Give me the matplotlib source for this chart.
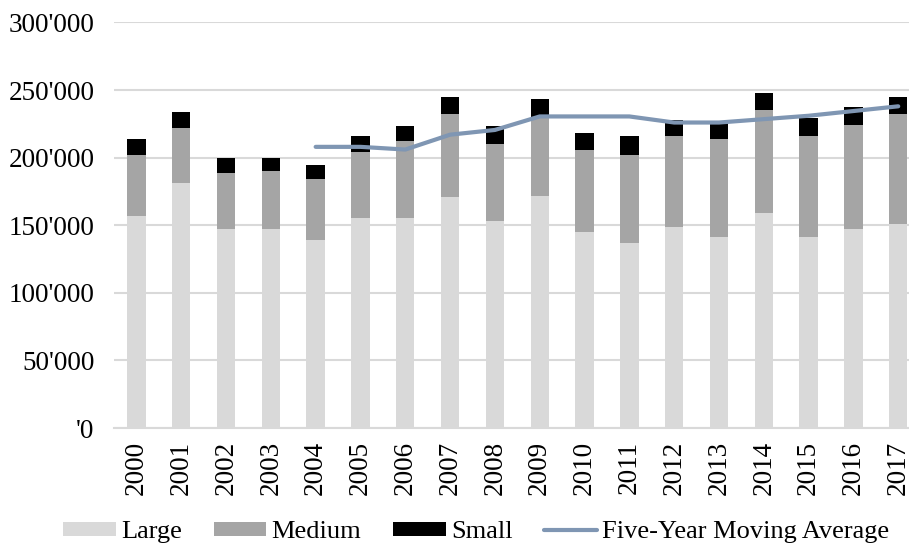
import matplotlib
matplotlib.use('Agg')
import matplotlib.pyplot as plt
import numpy as np

years = [str(y) for y in range(2000, 2018)]
large = [157000, 181000, 147000, 147000, 139000, 155000, 155000, 171000, 153000,
         172000, 145000, 137000, 149000, 141000, 159000, 141000, 147000, 151000]
medium_top = [202000, 222000, 188500, 190000, 184000, 204000, 212000, 232000, 210000,
              230000, 206000, 202000, 216000, 214000, 235500, 216000, 224000, 232000]
total = [214000, 233500, 200000, 200000, 194500, 216000, 223500, 245000, 223500,
         243500, 218000, 216000, 228000, 225500, 247500, 229000, 237500, 245000]
medium = [m - l for m, l in zip(medium_top, large)]
small = [t - m for t, m in zip(total, medium_top)]
# five-year moving average, starts at 2004
moving_avg = [208000, 208000, 206000, 217000, 220500, 230500, 230500, 230500,
              226000, 226000, 228500, 231000, 234500, 238000]

y_ticks = [0, 50000, 100000, 150000, 200000, 250000, 300000]
y_labels = ["'0", "50'000", "100'000", "150'000", "200'000", "250'000", "300'000"]

plt.rcParams['font.family'] = ['Liberation Serif', 'DejaVu Serif']

fig = plt.figure(figsize=(9.09, 5.46), dpi=100)
ax = fig.add_axes([0.1254, 0.2161, 0.8746, 0.7427])

x = np.arange(len(years))
w = 0.41
b1 = ax.bar(x, large, w, color='#d9d9d9', label='Large', zorder=2)
b2 = ax.bar(x, medium, w, bottom=large, color='#a5a5a5', label='Medium', zorder=2)
b3 = ax.bar(x, small, w, bottom=medium_top, color='black', label='Small', zorder=2)
ln, = ax.plot(x[4:], moving_avg, color='#7f96b3', lw=3, solid_capstyle='round',
              label='Five-Year Moving Average', zorder=3)

ax.set_ylim(0, 300000)
ax.set_xlim(-0.5, 17.24)
ax.set_yticks(y_ticks)
ax.set_yticklabels(y_labels, fontsize=19.5)
ax.set_xticks(x)
ax.set_xticklabels(years, rotation=90, fontsize=19.5)
ax.tick_params(axis='y', length=0, pad=14)
ax.tick_params(axis='x', length=0, pad=9)
ax.grid(axis='y', color='#d9d9d9', lw=1.5, zorder=0)
for s in ['top', 'right', 'left']:
    ax.spines[s].set_visible(False)
ax.spines['bottom'].set_color('#d9d9d9')
ax.spines['bottom'].set_linewidth(1.5)

fig.legend(handles=[b1, b2, b3, ln], loc='center', bbox_to_anchor=(0.524, 0.025),
           ncol=4, frameon=False, fontsize=19, handlelength=2.0, handleheight=0.45,
           handletextpad=0.2, columnspacing=1.2)

fig.savefig('out.png', dpi=100)
